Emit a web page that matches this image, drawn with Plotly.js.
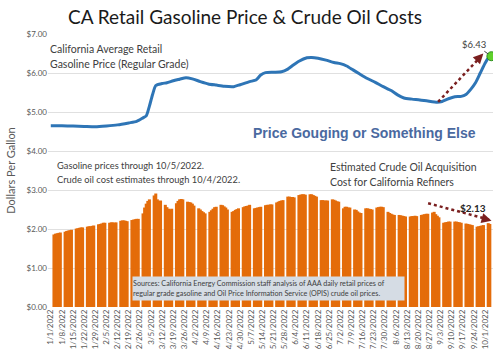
<!DOCTYPE html>
<html>
<head>
<meta charset="utf-8">
<script src="https://cdn.plot.ly/plotly-3.0.1.min.js"></script>
<style>html,body{margin:0;padding:0;background:#fff}#chart{width:500px;height:358px}</style>
</head>
<body>
<div id="chart"></div>
<script>
// ---- Data ----
const tickLabels = ["1/1/2022","1/8/2022","1/15/2022","1/22/2022","1/29/2022","2/5/2022","2/12/2022","2/19/2022","2/26/2022","3/5/2022","3/12/2022","3/19/2022","3/26/2022","4/2/2022","4/9/2022","4/16/2022","4/23/2022","4/30/2022","5/7/2022","5/14/2022","5/21/2022","5/28/2022","6/4/2022","6/11/2022","6/18/2022","6/25/2022","7/2/2022","7/9/2022","7/16/2022","7/23/2022","7/30/2022","8/6/2022","8/13/2022","8/20/2022","8/27/2022","9/3/2022","9/10/2022","9/17/2022","9/24/2022","10/1/2022"];

// California average retail gasoline price (regular), $/gal
const gasDates = ["2022-01-01","2022-01-08","2022-01-15","2022-01-22","2022-01-29","2022-02-05","2022-02-12","2022-02-19","2022-02-24","2022-02-28","2022-03-02","2022-03-04","2022-03-06","2022-03-08","2022-03-12","2022-03-15","2022-03-19","2022-03-23","2022-03-27","2022-03-31","2022-04-05","2022-04-10","2022-04-15","2022-04-20","2022-04-26","2022-04-30","2022-05-06","2022-05-10","2022-05-13","2022-05-16","2022-05-21","2022-05-26","2022-05-30","2022-06-02","2022-06-06","2022-06-11","2022-06-14","2022-06-18","2022-06-23","2022-06-28","2022-07-02","2022-07-06","2022-07-10","2022-07-14","2022-07-19","2022-07-24","2022-07-29","2022-08-03","2022-08-07","2022-08-11","2022-08-16","2022-08-21","2022-08-26","2022-09-01","2022-09-04","2022-09-08","2022-09-12","2022-09-16","2022-09-19","2022-09-22","2022-09-25","2022-09-28","2022-10-01","2022-10-03","2022-10-05"];
const gasPrice = [4.65,4.65,4.64,4.63,4.62,4.64,4.67,4.72,4.76,4.85,4.90,5.15,5.45,5.68,5.73,5.75,5.80,5.84,5.88,5.85,5.78,5.72,5.69,5.66,5.65,5.70,5.78,5.82,5.95,6.01,6.02,6.03,6.10,6.19,6.30,6.39,6.40,6.38,6.33,6.27,6.24,6.18,6.08,5.98,5.86,5.76,5.65,5.55,5.44,5.36,5.33,5.31,5.28,5.25,5.27,5.34,5.39,5.40,5.45,5.58,5.75,6.00,6.25,6.38,6.43];

// Estimated crude oil acquisition cost for California refiners, $/gal (weekdays, one row per week)
const crudeWeeks = [
 [1.86,1.88,1.89,1.90,1.91],[1.93,1.95,1.96,1.97,1.98],[2.01,2.02,2.03,2.04,2.04],[2.06,2.07,2.07,2.08,2.09],
 [2.12,2.13,2.14,2.16,2.16],[2.16,2.17,2.17,2.16,2.17],[2.21,2.22,2.22,2.21,2.20],[2.23,2.24,2.25,2.26,2.26],
 [2.40,2.55,2.65,2.72,2.76],[2.86,2.91,2.76,2.72,2.73],[2.62,2.56,2.52,2.50,2.52],[2.66,2.72,2.76,2.77,2.76],
 [2.70,2.69,2.68,2.65,2.60],[2.53,2.50,2.46,2.43,2.40],[2.44,2.48,2.52,2.56,2.57],[2.62,2.61,2.58,2.55,2.50],
 [2.44,2.46,2.49,2.51,2.53],[2.56,2.58,2.59,2.60,2.62],[2.53,2.54,2.55,2.56,2.57],[2.61,2.62,2.62,2.63,2.63],
 [2.68,2.70,2.72,2.73,2.74],[2.83,2.83,2.82,2.82,2.81],[2.87,2.88,2.89,2.89,2.88],[2.89,2.89,2.87,2.85,2.83],
 [2.74,2.74,2.73,2.73,2.73],[2.76,2.75,2.73,2.71,2.70],[2.53,2.57,2.57,2.55,2.55],[2.50,2.49,2.45,2.42,2.41],
 [2.53,2.53,2.52,2.51,2.50],[2.55,2.56,2.57,2.57,2.56],[2.44,2.41,2.39,2.37,2.36],[2.36,2.35,2.34,2.33,2.32],
 [2.32,2.33,2.33,2.34,2.33],[2.36,2.37,2.38,2.39,2.39],[2.42,2.44,2.38,2.34,2.30],[2.16,2.17,2.18,2.19,2.19],
 [2.19,2.19,2.18,2.17,2.16],[2.14,2.13,2.12,2.11,2.10],[2.06,2.07,2.08,2.09,2.10],[2.15,2.13]
];

// ---- Build ----
const DAY = 86400000;
function labelToISO(s){const p=s.split('/');return p[2]+'-'+String(p[0]).padStart(2,'0')+'-'+String(p[1]).padStart(2,'0');}
function addDays(iso,n){const d=new Date(iso+'T00:00:00Z');d.setTime(d.getTime()+n*DAY);return d.toISOString().slice(0,10);}
const tickVals = tickLabels.map(labelToISO);
const crudeDates=[], crudeCost=[];
crudeWeeks.forEach((wk,k)=>{wk.forEach((v,d)=>{crudeDates.push(addDays(tickVals[k],2+d));crudeCost.push(v);});});

const lastGas = gasPrice[gasPrice.length-1], lastGasDate = gasDates[gasDates.length-1];
const lastCrude = crudeCost[crudeCost.length-1];

const font = "Lato, 'Open Sans', sans-serif";
const traces = [
 {type:'bar', x:crudeDates, y:crudeCost, width:1.9*DAY, marker:{color:'#e46c0a',line:{width:0}}, hoverinfo:'skip'},
 {type:'scatter', mode:'lines', x:gasDates, y:gasPrice, line:{color:'#2e75b6',width:3,shape:'spline',smoothing:0.6}, hoverinfo:'skip'},
 {type:'scatter', mode:'markers', x:[lastGasDate], y:[lastGas], marker:{color:'#5fd12b',size:9,line:{color:'#2f8f1f',width:1}}, hoverinfo:'skip'}
];

const px2x = p => (p-48)/445, px2y = p => (307-p)/273;
const dotCol = '#7a1f1f';
const layout = {
 width:500, height:358,
 margin:{l:48,r:7,t:34,b:51},
 paper_bgcolor:'#fff', plot_bgcolor:'#fff',
 showlegend:false,
 title:{text:'CA Retail Gasoline Price & Crude Oil Costs', font:{family:font,size:19,color:'#1a1a1a'}, x:0.49, xref:'container', xanchor:'center', y:1-17/358, yref:'container', yanchor:'middle'},
 xaxis:{type:'date', range:['2021-12-30 06:00','2022-10-06 00:00'], tickmode:'array', tickvals:tickVals, ticktext:tickLabels, tickangle:-90, tickfont:{family:font,size:8,color:'#595959'}, showgrid:false, zeroline:false, showline:false, ticks:'', automargin:false},
 yaxis:{range:[0,7], dtick:1, tick0:0, tickformat:'$.2f', tickfont:{family:font,size:8,color:'#595959'}, gridcolor:'#e0e0e0', gridwidth:1, zeroline:false, showline:false, ticks:'', automargin:false,
   title:{text:'Dollars Per Gallon', font:{family:font,size:11,color:'#595959'}, standoff:8}},
 shapes:[
  {type:'line', xref:'x', yref:'y', x0:'2022-09-01 12:00', y0:5.26, x1:'2022-09-28 18:00', y1:6.44, line:{color:dotCol,width:2.5,dash:'dot'}},
  {type:'line', xref:'x', yref:'y', x0:'2022-08-26 05:00', y0:2.66, x1:'2022-10-03 12:00', y1:2.24, line:{color:dotCol,width:2.5,dash:'dot'}}
 ],
 annotations:[
  {xref:'paper',yref:'paper',x:px2x(48),y:px2y(49),xanchor:'left',yanchor:'middle',showarrow:false,text:'California Average Retail',font:{family:font,size:10.5,color:'#404040'}},
  {xref:'paper',yref:'paper',x:px2x(48),y:px2y(64),xanchor:'left',yanchor:'middle',showarrow:false,text:'Gasoline Price (Regular Grade)',font:{family:font,size:10.5,color:'#404040'}},
  {xref:'paper',yref:'paper',x:px2x(364),y:px2y(133),xanchor:'center',yanchor:'middle',showarrow:false,text:'<b>Price Gouging or Something Else</b>',font:{family:'Liberation Sans, Arial, sans-serif',size:14,color:'#4a69a0'}},
  {xref:'paper',yref:'paper',x:px2x(55),y:px2y(166),xanchor:'left',yanchor:'middle',showarrow:false,text:'Gasoline prices through 10/5/2022.',font:{family:font,size:9.3,color:'#404040'}},
  {xref:'paper',yref:'paper',x:px2x(55),y:px2y(179),xanchor:'left',yanchor:'middle',showarrow:false,text:'Crude oil cost estimates through 10/4/2022.',font:{family:font,size:9.3,color:'#404040'}},
  {xref:'paper',yref:'paper',x:px2x(328),y:px2y(167),xanchor:'left',yanchor:'middle',showarrow:false,text:'Estimated Crude Oil Acquisition',font:{family:font,size:10.5,color:'#404040'}},
  {xref:'paper',yref:'paper',x:px2x(328),y:px2y(182),xanchor:'left',yanchor:'middle',showarrow:false,text:'Cost for California Refiners',font:{family:font,size:10.5,color:'#404040'}},
  {xref:'paper',yref:'paper',x:px2x(268.5),y:px2y(288.3),xanchor:'center',yanchor:'middle',showarrow:false,width:271,height:23,bgcolor:'#d5dce4',borderpad:0,align:'left',
   text:'Sources: California Energy Commission staff analysis of AAA daily retail prices of<br>regular grade gasoline and Oil Price Information Service (OPIS) crude oil prices.',font:{family:font,size:7.2,color:'#404040'}},
  {xref:'x',yref:'y',x:lastGasDate,y:lastGas,text:'$'+lastGas.toFixed(2),showarrow:true,arrowhead:0,arrowwidth:1,arrowcolor:'#404040',ax:-17,ay:-12,standoff:4,font:{family:font,size:9.5,color:'#404040'}},
  {xref:'paper',yref:'paper',x:px2x(472.5),y:px2y(208),xanchor:'center',yanchor:'middle',showarrow:false,text:'<b>$'+lastCrude.toFixed(2)+'</b>',font:{family:font,size:10,color:'#262626'}},
  {xref:'x',yref:'y',x:'2022-09-29 22:00',y:6.50,text:'',showarrow:true,arrowhead:2,arrowsize:1,arrowwidth:2,arrowcolor:dotCol,ax:-7,ay:7.3,standoff:0},
  {xref:'x',yref:'y',x:'2022-10-05 02:00',y:2.21,text:'',showarrow:true,arrowhead:2,arrowsize:1,arrowwidth:2,arrowcolor:dotCol,ax:-9.6,ay:-2.7,standoff:0}
 ]
};
Plotly.newPlot('chart', traces, layout, {staticPlot:true, displayModeBar:false});
</script>
</body>
</html>
